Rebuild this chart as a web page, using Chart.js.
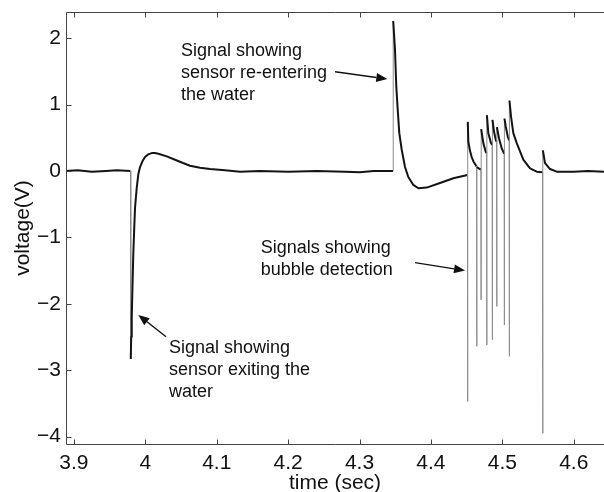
<!DOCTYPE html>
<html lang="en">
<head>
  <meta charset="UTF-8" />
  <title>Sensor voltage trace</title>
  <script src="https://cdn.jsdelivr.net/npm/chart.js"></script>
  <style>
    html, body { margin: 0; padding: 0; background: #fff; }
    #wrap { width: 604px; height: 492px; }
  </style>
</head>
<body>
  <div id="wrap"><canvas id="trace" width="604" height="492"></canvas></div>

  <script>
  // time (sec) and voltage (V)
  const times = [
    3.889, 3.905, 3.925, 3.945, 3.960, 3.979,
    3.9794, 3.9796,
    3.9802, 3.9810, 3.9821, 3.9832, 3.9845, 3.9856, 3.9880, 3.9902, 3.9926, 3.9961,
    3.9996, 4.0039, 4.0090, 4.0136, 4.0182, 4.0300, 4.0416, 4.0528, 4.0626, 4.0766,
    4.0906, 4.1116, 4.1327,
    4.160, 4.200, 4.240, 4.280, 4.300, 4.320, 4.3470,
    4.3472, 4.3497, 4.3515, 4.3535, 4.3557, 4.3591, 4.3637, 4.3683, 4.3754, 4.3824,
    4.3941, 4.4127, 4.4314, 4.4512,
    4.4514, 4.4516, 4.4524, 4.4548, 4.4571, 4.4597, 4.4627, 4.4640,
    4.4642, 4.4644, 4.4670, 4.4700,
    4.4702, 4.4704, 4.4734, 4.4767, 4.4780,
    4.4782, 4.4784, 4.4804, 4.4842, 4.4858,
    4.4860, 4.4862, 4.4884, 4.4908, 4.4920,
    4.4922, 4.4924, 4.4954, 4.4992, 4.5026,
    4.5028, 4.5030, 4.5048, 4.5076, 4.5096,
    4.5098, 4.5100, 4.5122, 4.5154, 4.5202, 4.5294, 4.5388, 4.5482, 4.5564,
    4.5566, 4.5568, 4.5598, 4.5668, 4.5762, 4.6000, 4.6200, 4.6424
  ];
  const volts = [
    0.00, 0.01, -0.01, 0.00, 0.01, 0.00,
    0.00, -2.83,
    -2.50, -2.20, -1.70, -1.24, -0.85, -0.55, -0.25, -0.05, 0.06, 0.15,
    0.21, 0.25, 0.27, 0.27, 0.26, 0.22, 0.17, 0.12, 0.08, 0.05,
    0.03, 0.01, -0.01,
    0.00, -0.01, 0.00, -0.01, -0.02, 0.00, 0.00,
    2.26, 1.82, 1.27, 0.92, 0.57, 0.32, 0.06, -0.09, -0.21, -0.26,
    -0.25, -0.18, -0.11, -0.06,
    -3.47, 0.74, 0.44, 0.30, 0.21, 0.14, 0.09, 0.07,
    -2.64, 0.06, 0.04, 0.02,
    -1.94, 0.63, 0.42, 0.29, 0.27,
    -2.62, 0.84, 0.57, 0.42, 0.39,
    -2.54, 0.77, 0.59, 0.47, 0.44,
    -2.04, 0.66, 0.49, 0.34, 0.26,
    -2.32, 0.79, 0.67, 0.52, 0.46,
    -2.79, 1.06, 0.82, 0.57, 0.42, 0.17, 0.04, -0.01, -0.02,
    -3.95, 0.31, 0.12, 0.03, -0.01, -0.01, 0.00, -0.01
  ];
  const timeTicks = [3.9, 4, 4.1, 4.2, 4.3, 4.4, 4.5, 4.6];
  const voltTicks = [-4, -3, -2, -1, 0, 1, 2];

  // notes: text anchored in data units, arrow from -> to
  const notes = [
    { lines: ['Signal showing', 'sensor re-entering', 'the water'], at: [4.050, 1.80], from: [4.2657, 1.495], to: [4.3389, 1.386] },
    { lines: ['Signals showing', 'bubble detection'], at: [4.1616, -1.164], from: [4.3777, -1.38], to: [4.4478, -1.50] },
    { lines: ['Signal showing', 'sensor exiting the', 'water'], at: [4.0332, -2.661], from: [4.0290, -2.495], to: [3.9902, -2.169] }
  ];

  const FONT = '"Liberation Sans", Arial, Helvetica, sans-serif';

  function arrow(ctx, x0, y0, x1, y1) {
    const ang = Math.atan2(y1 - y0, x1 - x0), L = 11, W = 4.5;
    const bx = x1 - L * Math.cos(ang), by = y1 - L * Math.sin(ang);
    ctx.beginPath(); ctx.moveTo(x0, y0); ctx.lineTo(bx, by); ctx.stroke();
    ctx.beginPath();
    ctx.moveTo(x1, y1);
    ctx.lineTo(bx + W * Math.sin(ang), by - W * Math.cos(ang));
    ctx.lineTo(bx - W * Math.sin(ang), by + W * Math.cos(ang));
    ctx.closePath(); ctx.fill();
  }

  // matlab-style box with inward ticks, plus the text notes
  const frame = {
    id: 'frame',
    afterDatasetsDraw(chart) {
      const { ctx, chartArea: a, scales: { x, y } } = chart;
      const L = a.left + .5, T = a.top + .5, B = a.bottom + .5;
      ctx.save();
      ctx.strokeStyle = '#444';
      ctx.lineWidth = 1;
      ctx.beginPath();
      ctx.moveTo(a.right, T); ctx.lineTo(L, T); ctx.lineTo(L, B); ctx.lineTo(a.right, B);
      timeTicks.forEach(v => {
        const px = Math.round(x.getPixelForValue(v)) + .5;
        ctx.moveTo(px, T); ctx.lineTo(px, T + 5);
        ctx.moveTo(px, B); ctx.lineTo(px, B - 5);
      });
      voltTicks.forEach(v => {
        const py = Math.round(y.getPixelForValue(v)) + .5;
        ctx.moveTo(L, py); ctx.lineTo(L + 5, py);
      });
      ctx.stroke();

      ctx.fillStyle = '#111';
      ctx.strokeStyle = '#111';
      ctx.lineWidth = 1.4;
      ctx.font = '18px ' + FONT;
      ctx.textBaseline = 'middle';
      ctx.textAlign = 'left';
      notes.forEach(n => {
        const tx = x.getPixelForValue(n.at[0]), ty = y.getPixelForValue(n.at[1]);
        n.lines.forEach((s, i) => ctx.fillText(s, tx, ty + i * 22));
        arrow(ctx, x.getPixelForValue(n.from[0]), y.getPixelForValue(n.from[1]),
                   x.getPixelForValue(n.to[0]), y.getPixelForValue(n.to[1]));
      });
      ctx.restore();
    }
  };

  // near-vertical jumps come out thin and grey in the recording
  const steep = c => Math.abs(c.p1.x - c.p0.x) < 0.3 && Math.abs(c.p1.y - c.p0.y) > 20;

  // keep the plot box where the figure has it
  const noPad = s => { s.paddingTop = 0; s.paddingBottom = 0; s.paddingLeft = 0; s.paddingRight = 0; };

  new Chart(document.getElementById('trace'), {
    type: 'line',
    data: {
      datasets: [{
        data: times.map((t, i) => ({ x: t, y: volts[i] })),
        borderColor: '#141414',
        borderWidth: 2,
        borderJoinStyle: 'round',
        pointRadius: 0,
        tension: 0,
        segment: {
          borderColor: c => steep(c) ? '#8c8c8c' : '#141414',
          borderWidth: c => steep(c) ? 1 : 2
        }
      }]
    },
    options: {
      responsive: false,
      animation: false,
      layout: { padding: { top: 12, left: 0, right: 0, bottom: 0 } },
      plugins: { legend: { display: false }, tooltip: { enabled: false } },
      scales: {
        x: {
          type: 'linear',
          min: 3.8889,
          max: 4.6424,
          afterBuildTicks: s => { s.ticks = timeTicks.map(v => ({ value: v })); },
          afterFit: s => { s.height = 48; noPad(s); },
          grid: { display: false, drawTicks: false },
          border: { display: false },
          ticks: {
            autoSkip: false, maxRotation: 0, padding: 7, color: '#111',
            font: { family: FONT, size: 21 },
            callback: v => String(Math.round(v * 10) / 10)
          },
          title: {
            display: true, text: 'time (sec)', color: '#111',
            font: { family: FONT, size: 21, lineHeight: 1 },
            padding: { top: 0, bottom: -2 }
          }
        },
        y: {
          type: 'linear',
          min: -4.111,
          max: 2.3946,
          afterBuildTicks: s => { s.ticks = voltTicks.map(v => ({ value: v })); },
          afterFit: s => { s.width = 66; noPad(s); },
          grid: { display: false, drawTicks: false },
          border: { display: false },
          ticks: {
            padding: 5, color: '#111',
            font: { family: FONT, size: 21 },
            callback: v => String(v).replace('-', '\u2212')
          },
          title: {
            display: true, text: 'voltage(V)', color: '#111',
            font: { family: FONT, size: 21, lineHeight: 1.2 },
            padding: { top: 11, bottom: 0 }
          }
        }
      }
    },
    plugins: [frame]
  });
  </script>
</body>
</html>
